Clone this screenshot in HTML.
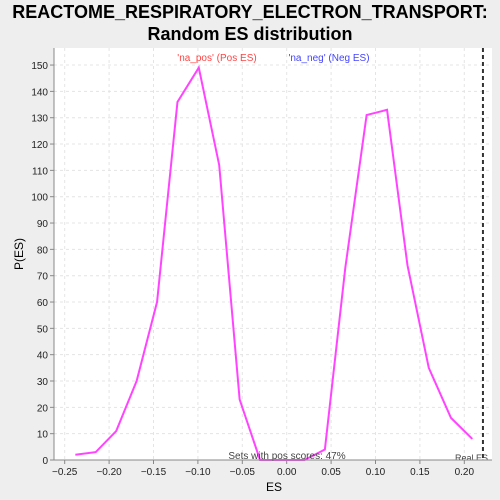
<!DOCTYPE html>
<html><head><meta charset="utf-8"><style>
body{margin:0;background:#eeeeee;font-family:"Liberation Sans",sans-serif;overflow:hidden}
svg{display:block}
</style></head><body>
<svg width="500" height="500" xmlns="http://www.w3.org/2000/svg">
<defs><clipPath id="pc"><rect x="54" y="48" width="438" height="412"/></clipPath></defs>
<rect width="500" height="500" fill="#eeeeee"/>
<text x="250" y="18" text-anchor="middle" font-size="18" font-weight="bold" fill="#000">REACTOME_RESPIRATORY_ELECTRON_TRANSPORT:</text>
<text x="250" y="40" text-anchor="middle" font-size="18" font-weight="bold" fill="#000">Random ES distribution</text>
<rect x="54" y="48" width="438" height="412" fill="#fff"/>
<g id="grid"></g>
<g id="axes"></g>
<polyline id="line" fill="none" stroke="#ff44ff" stroke-width="2"/>
<line id="real" y1="48" y2="460" stroke="#333" stroke-width="2" stroke-dasharray="4,3"/>
<text x="217" y="61" text-anchor="middle" font-size="10" fill="#ff4444">'na_pos' (Pos ES)</text>
<text x="329" y="61" text-anchor="middle" font-size="10" fill="#4444ff">'na_neg' (Neg ES)</text>
<text x="287" y="459" text-anchor="middle" font-size="10" fill="#444">Sets with pos scores: 47%</text>
<text x="455" y="461" font-size="9" fill="#444" clip-path="url(#pc)">Real ES</text>
<line x1="54" y1="48" x2="54" y2="460" stroke="#888"/>
<line x1="54" y1="460" x2="492" y2="460" stroke="#888"/>
<text x="274" y="491" text-anchor="middle" font-size="12">ES</text>
<text x="23" y="254" text-anchor="middle" font-size="12" transform="rotate(-90 23 254)">P(ES)</text>
</svg>
<script>
const esValues=[-0.238,-0.215,-0.192,-0.169,-0.146,-0.123,-0.099,-0.076,-0.053,-0.030,-0.007,0.020,0.043,0.066,0.090,0.113,0.136,0.160,0.185,0.209];
const densities=[2,3,11,30,60,136,149,112,23,0,0,0,4,73,131,133,74,35,16,8];
const xTicks=[-0.25,-0.20,-0.15,-0.10,-0.05,0.00,0.05,0.10,0.15,0.20];
const yTicks=[0,10,20,30,40,50,60,70,80,90,100,110,120,130,140,150];
const realES=0.221;
const X=v=>286.7+v*888, Y=v=>460-v*2.633;
const ns="http://www.w3.org/2000/svg";
const g=document.getElementById('grid'), a=document.getElementById('axes');
function mk(t,at,p){const e=document.createElementNS(ns,t);for(const k in at)e.setAttribute(k,at[k]);p.appendChild(e);return e;}
xTicks.forEach(t=>{const x=X(t);
 const gl=mk('line',{x1:x,x2:x,y1:48,y2:460,stroke:'#e4e4e4','stroke-dasharray':'3,3'},g);
 
 
 const tk=mk('line',{x1:x,x2:x,y1:460,y2:464,stroke:'#888'},a);
 
 
 const tx=mk('text',{x:x,y:475,'text-anchor':'middle','font-size':'10',fill:'#222'},a);
 tx.textContent=(t<0?'−':'')+Math.abs(t).toFixed(2);
 
 });
yTicks.forEach(t=>{const y=Y(t);
 const gl=mk('line',{x1:54,x2:492,y1:y,y2:y,stroke:'#e4e4e4','stroke-dasharray':'3,3'},g);
 
 
 const tk=mk('line',{x1:50,x2:54,y1:y,y2:y,stroke:'#888'},a);
 
 
 const tx=mk('text',{x:48,y:y+4,'text-anchor':'end','font-size':'10',fill:'#222'},a);
 tx.textContent=t;
 
 });
document.getElementById('line').setAttribute('points',esValues.map((v,i)=>X(v)+','+Y(densities[i])).join(' '));
const r=document.getElementById('real');r.setAttribute('x1',X(realES));r.setAttribute('x2',X(realES));
</script>
</body></html>
